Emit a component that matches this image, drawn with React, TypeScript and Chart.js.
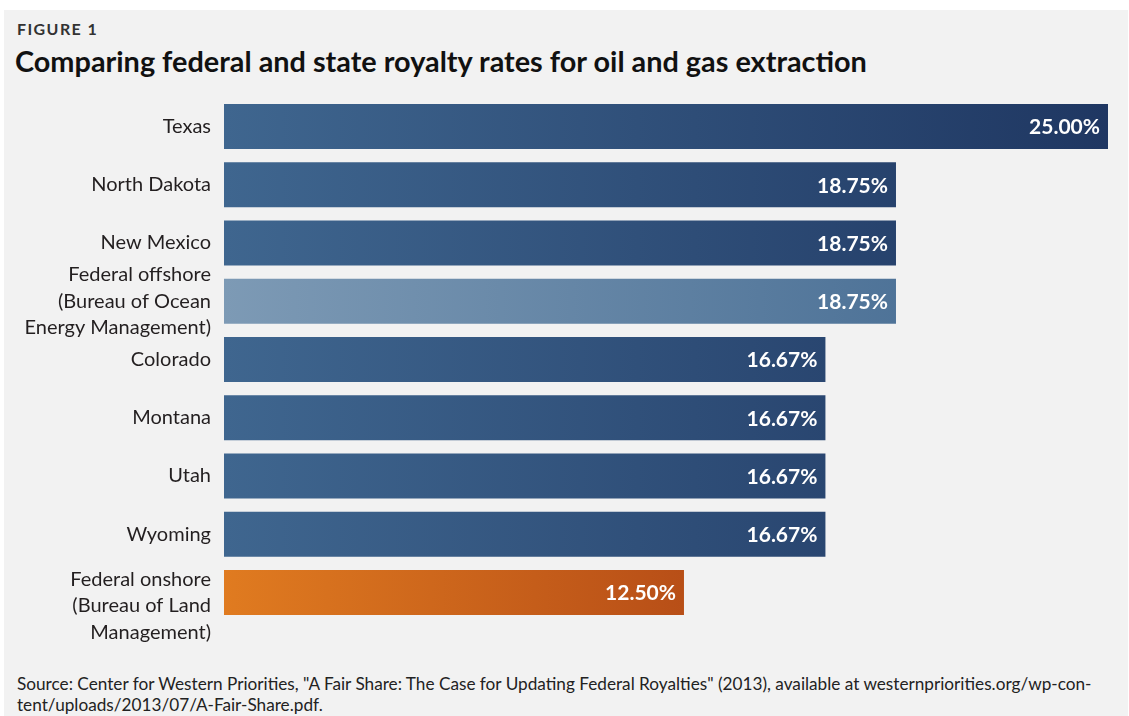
import React, { useEffect, useRef } from "react";
import { Chart, registerables } from "chart.js";

Chart.register(...registerables);

const categories: string[][] = [
  ["Texas"],
  ["North Dakota"],
  ["New Mexico"],
  ["Federal offshore", "(Bureau of Ocean", "Energy Management)"],
  ["Colorado"],
  ["Montana"],
  ["Utah"],
  ["Wyoming"],
  ["", "Federal onshore", "(Bureau of Land", "Management)"],
];

const rates: number[] = [25, 18.75, 18.75, 18.75, 16.67, 16.67, 16.67, 16.67, 12.5];

const barKinds: string[] = [
  "state", "state", "state", "offshore", "state", "state", "state", "state", "onshore",
];

const X_MIN = -1.06;
const X_MAX = 25;

const FONT = "Lato, 'Open Sans', sans-serif";

const gradientStops: Record<string, [string, string]> = {
  state: ["#3f668f", "#1f3762"],
  offshore: ["#7d9ab5", "#40678f"],
  onshore: ["#e07b20", "#93260f"],
};

const valueLabelPlugin = {
  id: "valueLabels",
  afterDatasetsDraw(chart: any) {
    const ctx = chart.ctx;
    const meta = chart.getDatasetMeta(0);
    ctx.save();
    ctx.fillStyle = "#ffffff";
    ctx.font = `bold 21px ${FONT}`;
    ctx.textAlign = "right";
    ctx.textBaseline = "middle";
    meta.data.forEach((bar: any, i: number) => {
      const v = rates[i];
      ctx.fillText(v.toFixed(2) + "%", bar.x - 8, bar.y + 1);
    });
    ctx.restore();
  },
};

export default function App() {
  const canvasRef = useRef<HTMLCanvasElement | null>(null);

  useEffect(() => {
    if (!canvasRef.current) return;
    const chart = new Chart(canvasRef.current, {
      type: "bar",
      data: {
        labels: categories,
        datasets: [
          {
            data: rates,
            base: X_MIN,
            barPercentage: 0.773,
            categoryPercentage: 1,
            borderWidth: 0,
            backgroundColor: (c: any) => {
              const ch = c.chart;
              const area = ch.chartArea;
              const kind = barKinds[c.dataIndex] || "state";
              const stops = gradientStops[kind];
              if (!area) return stops[0];
              const g = ch.ctx.createLinearGradient(area.left, 0, area.right, 0);
              g.addColorStop(0, stops[0]);
              g.addColorStop(1, stops[1]);
              return g;
            },
          },
        ],
      },
      options: {
        indexAxis: "y",
        responsive: false,
        animation: false,
        devicePixelRatio: 1,
        layout: { padding: { left: 4, right: 20, top: 7.4, bottom: 28.4 } },
        plugins: {
          legend: { display: false },
          tooltip: { enabled: false },
          title: { display: false },
        },
        scales: {
          x: { min: X_MIN, max: X_MAX, display: false },
          y: {
            grid: { display: false, drawTicks: false },
            border: { display: false },
            ticks: {
              autoSkip: false,
              color: "#231f20",
              padding: 13,
              font: { family: FONT, size: 20, lineHeight: 1.33 },
            },
            afterFit: (s: any) => {
              s.width = 216;
              s.paddingTop = 0;
              s.paddingBottom = 0;
            },
          },
        },
      } as any,
      plugins: [valueLabelPlugin],
    });
    return () => chart.destroy();
  }, []);

  return (
    <div
      style={{
        position: "fixed",
        left: 4,
        top: 10,
        width: 1124,
        height: 706,
        background: "#f2f2f2",
        fontFamily: FONT,
        color: "#1a1a1a",
      }}
    >
      <div
        style={{
          position: "absolute",
          left: 13,
          top: 11,
          fontSize: 16,
          lineHeight: "16px",
          fontWeight: 700,
          letterSpacing: 1.4,
          color: "#333",
        }}
      >
        FIGURE 1
      </div>
      <div
        style={{
          position: "absolute",
          left: 11,
          top: 37,
          fontSize: 28.85,
          lineHeight: "29px",
          fontWeight: 700,
          color: "#111",
          whiteSpace: "nowrap",
        }}
      >
        Comparing federal and state royalty rates for oil and gas extraction
      </div>
      <canvas
        ref={canvasRef}
        width={1124}
        height={560}
        style={{ position: "absolute", left: 0, top: 80, width: 1124, height: 560 }}
      />
      <div
        style={{
          position: "absolute",
          left: 13,
          top: 663,
          fontSize: 17.2,
          lineHeight: "21px",
          color: "#222",
          whiteSpace: "nowrap",
        }}
      >
        Source: Center for Western Priorities, "A Fair Share: The Case for Updating Federal Royalties" (2013), available at westernpriorities.org/wp-con-
        <br />
        tent/uploads/2013/07/A-Fair-Share.pdf.
      </div>
    </div>
  );
}
